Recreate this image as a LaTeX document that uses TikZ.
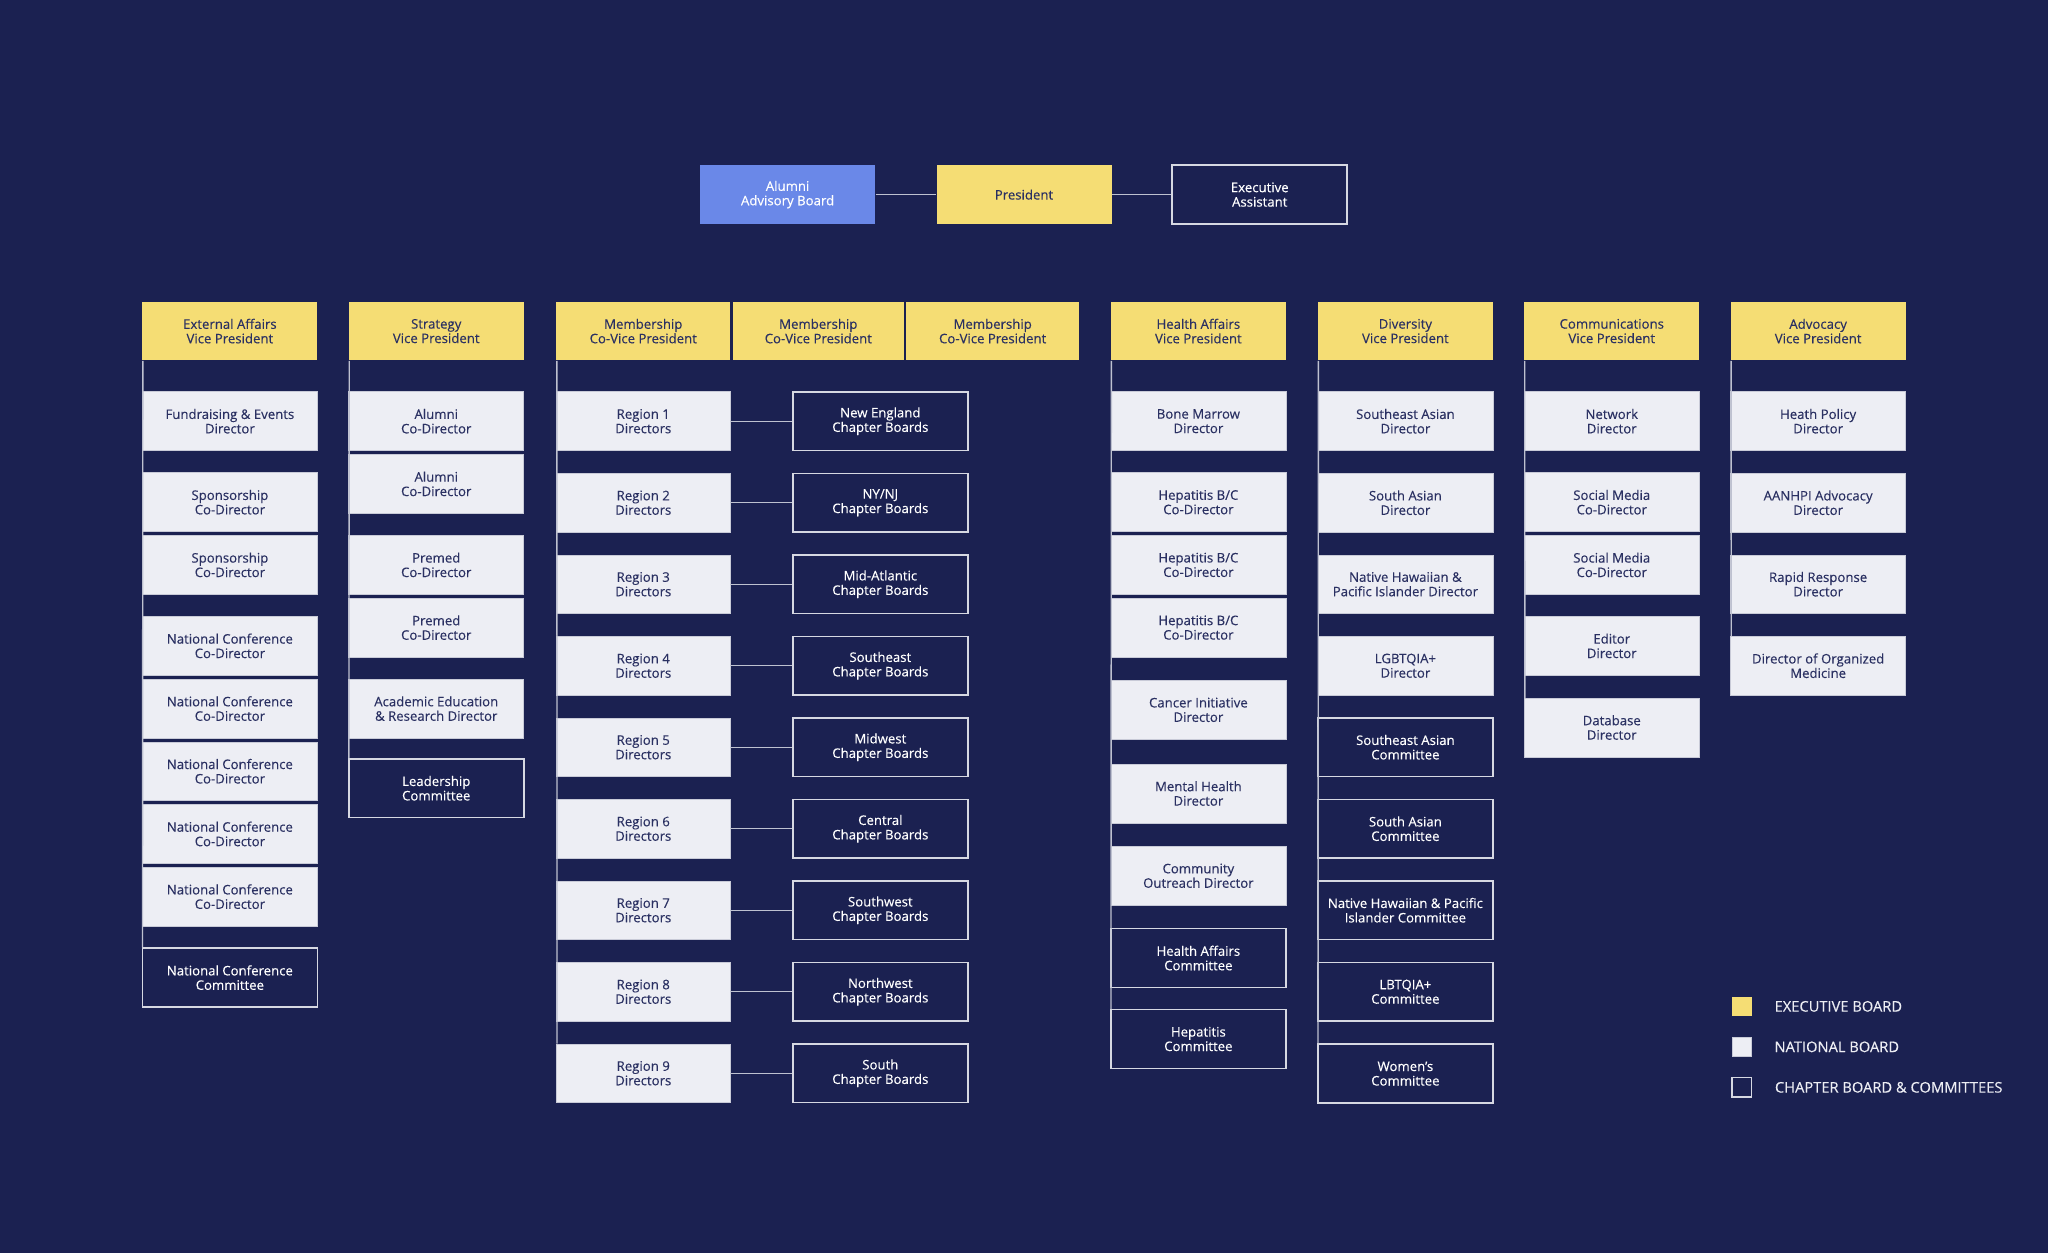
\documentclass[tikz,border=0pt]{standalone}
\usepackage{fontspec}
\setmainfont{Open Sans}
\newfontfamily\boxfont[FakeBold=0.25]{Open Sans}
\usetikzlibrary{positioning}

\definecolor{navybg}{RGB}{27,33,81}
\definecolor{execyel}{RGB}{245,221,116}
\definecolor{natgray}{RGB}{237,238,244}
\definecolor{natedge}{RGB}{200,202,215}
\definecolor{advblue}{RGB}{106,136,232}
\definecolor{inkdark}{RGB}{42,48,98}
\definecolor{linegray}{RGB}{190,193,208}
\definecolor{edgegray}{RGB}{214,216,226}

\begin{document}
\begin{tikzpicture}[x=0.02cm,y=-0.02cm,
  every node/.style={font=\boxfont\fontsize{5.75}{6.3}\selectfont, align=center, inner sep=0pt},
  box/.style={minimum width=2.68cm, minimum height=0.9cm},
  exec/.style={box, fill=execyel, text=inkdark},
  nat/.style={box, fill=natgray, draw=natedge, line width=0.3pt, text=inkdark},
  chap/.style={box, draw=edgegray, line width=0.7pt, text=white},
  adv/.style={box, fill=advblue, text=white},
  conn/.style={draw=linegray, line width=0.6pt},
  legend/.style={font=\boxfont\fontsize{6.4}{7.5}\selectfont, text=natgray, anchor=west}]

\fill[navybg] (0,0) rectangle (1568,959);

% top row
\node[adv] (alumni) at (603,149) {Alumni\\Advisory Board};
\node[exec] (pres) at (784,149) {President};
\node[chap] (asst) at (964.5,149) {Executive\\Assistant};
\draw[conn] (alumni) -- (pres);
\draw[conn] (pres) -- (asst);

% vice presidents
\node[exec] (ea) at (176,253.5) {External Affairs\\Vice President};
\node[exec] (strat) at (334,253.5) {Strategy\\Vice President};
\node[exec,minimum width=2.66cm] (mem1) at (492.5,253.5) {Membership\\Co-Vice President};
\node[exec,minimum width=2.62cm] (mem2) at (626.5,253.5) {Membership\\Co-Vice President};
\node[exec,minimum width=2.64cm] (mem3) at (760,253.5) {Membership\\Co-Vice President};
\node[exec] (ha) at (917.5,253.5) {Health Affairs\\Vice President};
\node[exec] (dv) at (1076,253.5) {Diversity\\Vice President};
\node[exec] (cm) at (1234,253.5) {Communications\\Vice President};
\node[exec] (ad) at (1392,253.5) {Advocacy\\Vice President};

% external affairs
\node[nat] (ea1) at (176,322.5) {Fundraising \& Events\\Director};
\node[nat] (ea2) at (176,384.5) {Sponsorship\\Co-Director};
\node[nat] (ea3) at (176,432.5) {Sponsorship\\Co-Director};
\foreach \y [count=\i from 4] in {494.5,542.5,590.5,638.5,686.5}{
  \node[nat] (ea\i) at (176,\y) {National Conference\\Co-Director};
}
\node[chap] (ea9) at (176,748.5) {National Conference\\Committee};
\draw[conn] ([xshift=0.4pt]ea.south west) -- ([xshift=0.4pt]ea9.north west);

% strategy
\node[nat] (st1) at (334,322.5) {Alumni\\Co-Director};
\node[nat] (st2) at (334,370.5) {Alumni\\Co-Director};
\node[nat] (st3) at (334,432.5) {Premed\\Co-Director};
\node[nat] (st4) at (334,480.5) {Premed\\Co-Director};
\node[nat] (st5) at (334,542.5) {Academic Education\\\& Research Director};
\node[chap] (st6) at (334,603.5) {Leadership\\Committee};
\draw[conn] ([xshift=0.4pt]strat.south west) -- ([xshift=0.4pt]st6.north west);

% membership regions
\foreach \cb [count=\k] in {New England, NY/NJ, Mid-Atlantic, Southeast, Midwest, Central, Southwest, Northwest, South}{
  \node[nat,minimum width=2.66cm] (reg\k) at (492.5,{322.5+62.4*(\k-1)}) {Region \k\\Directors};
  \node[chap] (cb\k) at (674,{322.5+62.4*(\k-1)}) {\cb\\Chapter Boards};
  \draw[conn] (reg\k) -- (cb\k);
}
\draw[conn] ([xshift=0.4pt]mem1.south west) -- ([xshift=0.4pt]reg9.north west);

% health affairs
\node[nat] (ha1) at (917.5,322.5) {Bone Marrow\\Director};
\foreach \y [count=\i from 2] in {384.5,432.5,480.5}{
  \node[nat] (ha\i) at (917.5,\y) {Hepatitis B/C\\Co-Director};
}
\node[nat] (ha5) at (917.5,543.5) {Cancer Initiative\\Director};
\node[nat] (ha6) at (917.5,607.5) {Mental Health\\Director};
\node[nat] (ha7) at (917.5,670.5) {Community\\Outreach Director};
\node[chap] (ha8) at (917.5,733.5) {Health Affairs\\Committee};
\node[chap] (ha9) at (917.5,795.5) {Hepatitis\\Committee};
\draw[conn] ([xshift=0.4pt]ha.south west) -- ([xshift=0.4pt]ha9.north west);

% diversity
\node[nat] (dv1) at (1076,322.5) {Southeast Asian\\Director};
\node[nat] (dv2) at (1076,384.9) {South Asian\\Director};
\node[nat] (dv3) at (1076,447.3) {Native Hawaiian \&\\Pacific Islander Director};
\node[nat] (dv4) at (1076,509.7) {LGBTQIA+\\Director};
\node[chap] (dv5) at (1076,572.1) {Southeast Asian\\Committee};
\node[chap] (dv6) at (1076,634.5) {South Asian\\Committee};
\node[chap] (dv7) at (1076,696.9) {Native Hawaiian \& Pacific\\Islander Committee};
\node[chap] (dv8) at (1076,759.3) {LBTQIA+\\Committee};
\node[chap] (dv9) at (1076,822) {Women’s\\Committee};
\draw[conn] ([xshift=0.4pt]dv.south west) -- ([xshift=0.4pt]dv9.north west);

% communications
\node[nat] (cm1) at (1234,322.5) {Network\\Director};
\node[nat] (cm2) at (1234,384.5) {Social Media\\Co-Director};
\node[nat] (cm3) at (1234,432.5) {Social Media\\Co-Director};
\node[nat] (cm4) at (1234,494.5) {Editor\\Director};
\node[nat] (cm5) at (1234,557) {Database\\Director};
\draw[conn] ([xshift=0.4pt]cm.south west) -- ([xshift=0.4pt]cm5.north west);

% advocacy
\node[nat] (ad1) at (1392,322.5) {Heath Policy\\Director};
\node[nat] (ad2) at (1392,384.9) {AANHPI Advocacy\\Director};
\node[nat] (ad3) at (1392,447.3) {Rapid Response\\Director};
\node[nat] (ad4) at (1392,509.7) {Director of Organized\\Medicine};
\draw[conn] ([xshift=0.4pt]ad.south west) -- ([xshift=0.4pt]ad4.north west);

% legend
\node[exec,minimum width=0.3cm,minimum height=0.3cm] (lgexec) at (1333.5,770.5) {};
\node[nat,minimum width=0.3cm,minimum height=0.3cm] (lgnat) at (1333.5,801.5) {};
\node[chap,minimum width=0.3cm,minimum height=0.3cm] (lgchap) at (1333.5,832.5) {};
\node[legend, right=0.34cm of lgexec] (lgexectxt) {EXECUTIVE BOARD};
\node[legend, right=0.34cm of lgnat] (lgnattxt) {NATIONAL BOARD};
\node[legend, right=0.34cm of lgchap] (lgchaptxt) {CHAPTER BOARD \& COMMITTEES};
\end{tikzpicture}
\end{document}
